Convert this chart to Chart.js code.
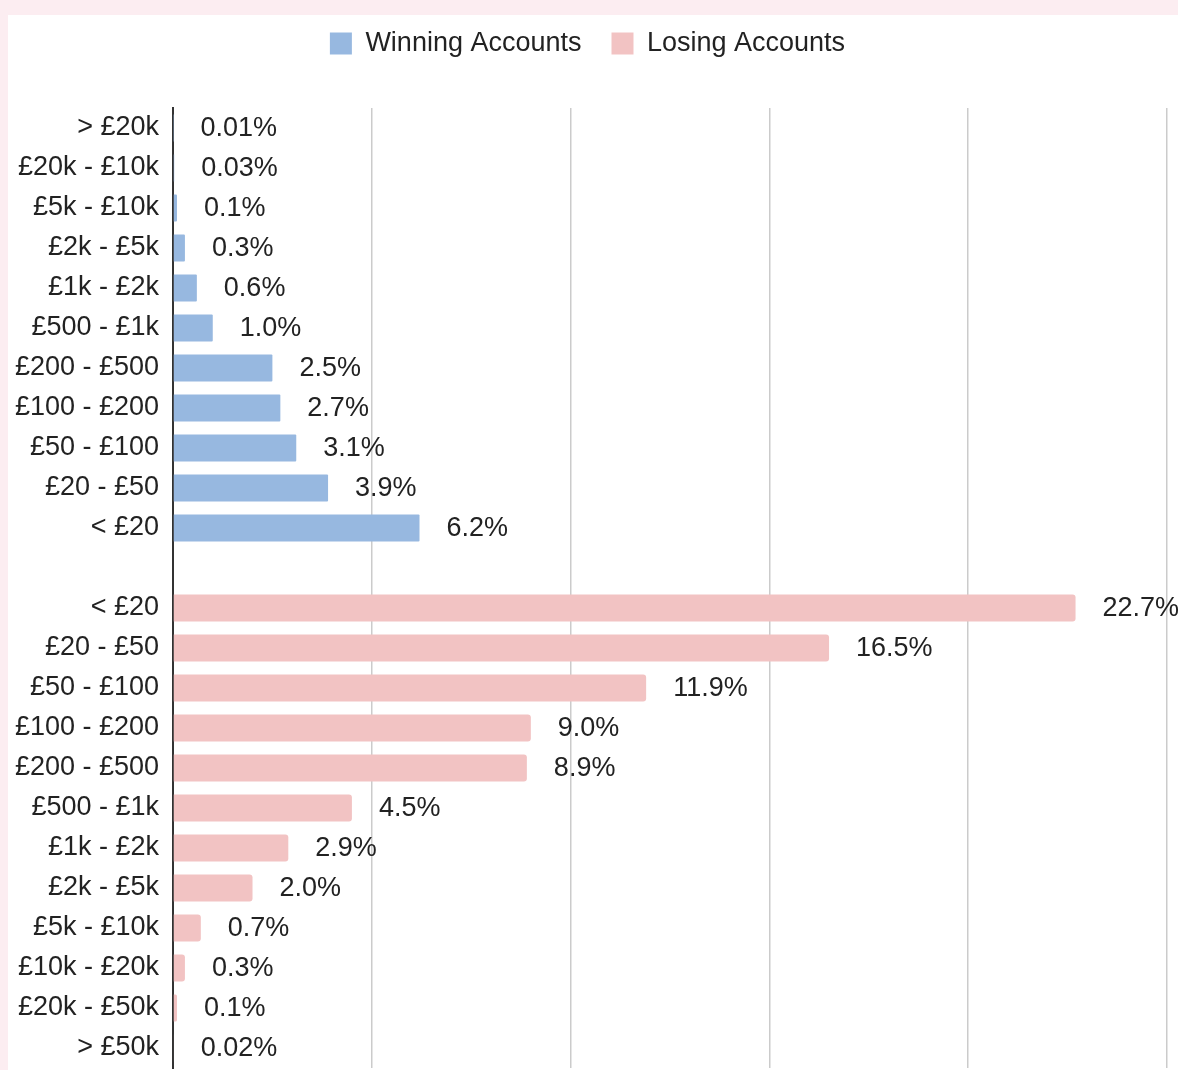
<!DOCTYPE html>
<html>
<head>
<meta charset="utf-8">
<script src="https://cdn.jsdelivr.net/npm/chart.js@4.4.1/dist/chart.umd.min.js"></script>
<style>
    html, body { margin: 0; padding: 0; background: #fcedf1; overflow: hidden; }
    #panel { position: absolute; left: 8px; top: 15px; width: 1170px; height: 1055px; background: #fff; }
    #wrap { position: absolute; left: 8px; top: 0; width: 1170px; height: 1070px; }
</style>
</head>
<body>
<div id="panel"></div>
<div id="wrap"><canvas id="spendChart"></canvas></div>
<script>
// Data
const winningRanges = ['> £20k', '£20k - £10k', '£5k - £10k', '£2k - £5k', '£1k - £2k', '£500 - £1k', '£200 - £500', '£100 - £200', '£50 - £100', '£20 - £50', '< £20'];
const winningValues = [0.01, 0.03, 0.1, 0.3, 0.6, 1.0, 2.5, 2.7, 3.1, 3.9, 6.2];
const winningText = ['0.01%', '0.03%', '0.1%', '0.3%', '0.6%', '1.0%', '2.5%', '2.7%', '3.1%', '3.9%', '6.2%'];

const losingRanges = ['< £20', '£20 - £50', '£50 - £100', '£100 - £200', '£200 - £500', '£500 - £1k', '£1k - £2k', '£2k - £5k', '£5k - £10k', '£10k - £20k', '£20k - £50k', '> £50k'];
const losingValues = [22.7, 16.5, 11.9, 9.0, 8.9, 4.5, 2.9, 2.0, 0.7, 0.3, 0.1, 0.02];
const losingText = ['22.7%', '16.5%', '11.9%', '9.0%', '8.9%', '4.5%', '2.9%', '2.0%', '0.7%', '0.3%', '0.1%', '0.02%'];

const xMax = 25;
const xStep = 5;

// blank row between the two groups
const categories = [...winningRanges, '', ...losingRanges];
const winData = [...winningValues, ...new Array(losingRanges.length + 1).fill(null)];
const loseData = [...new Array(winningRanges.length + 1).fill(null), ...losingValues];
const winLabels = [...winningText, ...new Array(losingRanges.length + 1).fill('')];
const loseLabels = [...new Array(winningRanges.length + 1).fill(''), ...losingText];

const FONT = "'Liberation Sans', Arial, sans-serif";
Chart.defaults.font.family = FONT;
Chart.defaults.color = '#222';

// extra room under the legend so the plot starts lower
const legendSpace = {
    id: 'legendSpace',
    beforeLayout(chart) {
        const lg = chart.legend;
        if (!lg || lg._padded) return;
        const fit = lg.fit;
        lg.fit = function () {
            fit.call(this);
            this.height = 108;
        };
        lg._padded = true;
    }
};

// percentage labels right of each bar
const valueLabels = {
    id: 'valueLabels',
    afterDatasetsDraw(chart) {
        const ctx = chart.ctx;
        ctx.save();
        ctx.font = '27px ' + FONT;
        ctx.fillStyle = '#222';
        ctx.textAlign = 'left';
        ctx.textBaseline = 'middle';
        chart.data.datasets.forEach((ds, i) => {
            const meta = chart.getDatasetMeta(i);
            meta.data.forEach((bar, j) => {
                if (ds.data[j] == null) return;
                ctx.fillText(ds.valueText[j], bar.x + 27, bar.y + 1);
            });
        });
        ctx.restore();
    }
};

new Chart(document.getElementById('spendChart'), {
    type: 'bar',
    data: {
        labels: categories,
        datasets: [
            {
                label: 'Winning Accounts',
                data: winData,
                valueText: winLabels,
                backgroundColor: '#97b8e0',
                borderRadius: 1,
                grouped: false,
                categoryPercentage: 1,
                barPercentage: 0.68
            },
            {
                label: 'Losing Accounts',
                data: loseData,
                valueText: loseLabels,
                backgroundColor: '#f2c3c3',
                borderRadius: 3,
                grouped: false,
                categoryPercentage: 1,
                barPercentage: 0.68
            }
        ]
    },
    options: {
        indexAxis: 'y',
        responsive: true,
        maintainAspectRatio: false,
        animation: false,
        layout: { padding: { top: 0, right: 11, bottom: 2, left: 0 } },
        plugins: {
            legend: {
                position: 'top',
                labels: {
                    boxWidth: 22,
                    boxHeight: 22,
                    padding: 30,
                    font: { size: 27 },
                    color: '#222'
                }
            },
            tooltip: { enabled: false }
        },
        scales: {
            x: {
                min: 0,
                max: xMax,
                afterFit(scale) { scale.height = 0; },
                ticks: { stepSize: xStep, display: false },
                grid: { color: '#cbcbcb', lineWidth: 1.5, drawTicks: false },
                border: { display: false }
            },
            y: {
                afterFit(scale) {
                    scale.width = 165;
                    scale.paddingTop = 0;
                    scale.paddingBottom = 0;
                },
                ticks: { padding: 14, font: { size: 27 }, color: '#222', autoSkip: false },
                grid: { display: false, drawTicks: false },
                border: { color: '#333', width: 2 }
            }
        }
    },
    plugins: [legendSpace, valueLabels]
});
</script>
</body>
</html>
